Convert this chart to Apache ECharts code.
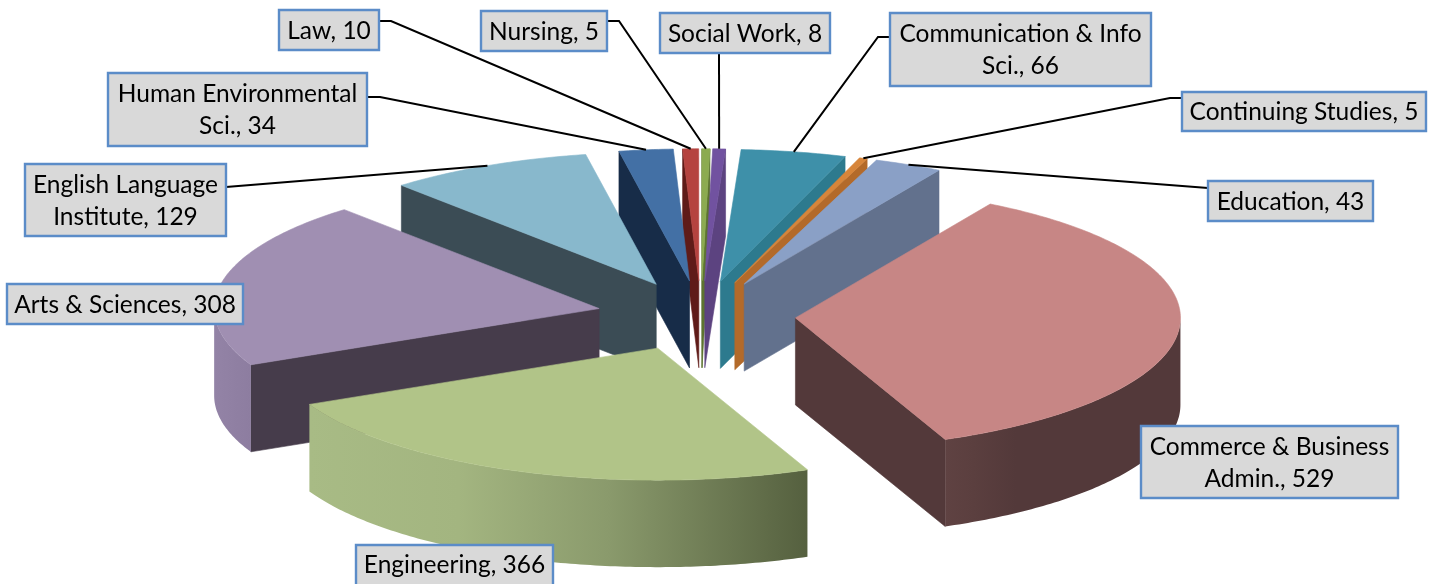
<!DOCTYPE html>
<html>
<head>
<meta charset="utf-8">
<script src="https://cdn.jsdelivr.net/npm/echarts@6/dist/echarts.min.js"></script>
<style>html,body{margin:0;padding:0;background:#fff}#c{width:1438px;height:584px}</style>
</head>
<body>
<div id="c"></div>
<script>
// ---- data ----
const categories = ['Commerce & Business\nAdmin.', 'Engineering', 'Arts & Sciences', 'English Language\nInstitute',
  'Human Environmental\nSci.', 'Law', 'Nursing', 'Social Work', 'Communication & Info\nSci.', 'Continuing Studies', 'Education'];
const values = [529, 366, 308, 129, 34, 10, 5, 8, 66, 5, 43];

// ---- styling ----
const topColors = ['#c78685', '#b1c488', '#a08fb2', '#88b8cc', '#4370a5', '#b5433f', '#8cab50', '#7152a0', '#3e90a9', '#d7853a', '#8aa0c6'];
const wallColors = ['#53393a', '#6b7a4e', '#463c4b', '#3b4c55', '#172c48', '#5f1b18', '#5d7430', '#5c4380', '#2d7a8e', '#b36a2a', '#62718d'];
const rimStops = {
  0: [[0, '#5f4242'], [0.12, '#5b3f3f'], [0.3, '#53393a'], [1, '#53393a']],
  1: [[0, '#a8bb85'], [0.3, '#a3b580'], [0.6, '#8a9a6c'], [1, '#55603f']],
  2: [[0, '#9383a6'], [1, '#8d7da0']]
};

// ---- pie geometry ----
const geo = { cx: 694, cy: 315.6, rx: 385, ry: 132, depth: 87, explode: 0.264, backShift: 7, startAngle: 30.4 };

// ---- label boxes: [left, top, right, bottom], leader elbow ----
const labelLayout = [
  { box: [1141, 426, 1398, 498] },
  { box: [356, 545, 553, 590] },
  { box: [7, 284, 243, 324] },
  { box: [25, 164, 226, 236], from: [226, 187] },
  { box: [108, 73, 367, 146], from: [367, 97], elbow: [380, 97] },
  { box: [279, 10, 379, 50], from: [379, 21], elbow: [391, 21] },
  { box: [481, 11, 607, 51], from: [607, 21], elbow: [619, 21] },
  { box: [660, 13, 830, 53], from: [719, 53] },
  { box: [890, 13, 1151, 86], from: [890, 37], elbow: [878, 37] },
  { box: [1182, 92, 1426, 131], from: [1182, 98], elbow: [1170, 98] },
  { box: [1208, 181, 1373, 221], from: [1208, 188] }
];

const total = values.reduce((a, b) => a + b, 0);
const rad = d => d * Math.PI / 180;
const slices = [];
let acc = geo.startAngle;
values.forEach(v => {
  const a0 = acc, a1 = acc + v / total * 360, mid = (a0 + a1) / 2;
  acc = a1;
  slices.push({
    a0, a1, mid,
    ax: geo.cx + geo.explode * geo.rx * Math.sin(rad(mid)) + geo.backShift * Math.pow(Math.max(0, Math.cos(rad(mid))), 0.25),
    ay: geo.cy - geo.explode * geo.ry * Math.cos(rad(mid))
  });
});
const order = slices.map((s, i) => i).sort((p, q) => slices[p].ay - slices[q].ay);
const rim = (s, a, dy) => [s.ax + geo.rx * Math.sin(rad(a)), s.ay - geo.ry * Math.cos(rad(a)) + (dy || 0)];
const arc = (s, a0, a1, dy) => {
  const pts = [], n = Math.max(2, Math.ceil((a1 - a0) / 0.75));
  for (let k = 0; k <= n; k++) pts.push(rim(s, a0 + (a1 - a0) * k / n, dy));
  return pts;
};
const poly = (pts, fill, z2) => ({
  type: 'polygon', z2, silent: true,
  shape: { points: pts },
  style: { fill, stroke: typeof fill === 'string' ? fill : null, lineWidth: 0.6 }
});

function renderSlice(params, api) {
  const i = params.dataIndex, s = slices[i], z = order.indexOf(i) * 10 + 1, d = geo.depth, kids = [];
  const A = [s.ax, s.ay], B = [s.ax, s.ay + d];
  if (Math.sin(rad(s.a0)) < 0) {
    kids.push(poly([A, rim(s, s.a0), rim(s, s.a0, d), B], wallColors[i], z));
  }
  if (Math.sin(rad(s.a1)) > 0) {
    kids.push(poly([A, rim(s, s.a1), rim(s, s.a1, d), B], wallColors[i], z));
  }
  const w0 = Math.max(s.a0, 90), w1 = Math.min(s.a1, 270);
  if (w1 > w0) {
    const top = arc(s, w0, w1), bottom = arc(s, w0, w1, d).reverse();
    // Engineering and Arts run left to right across the screen from their far end
    const fill = new echarts.graphic.LinearGradient(0, 0, 1, 0,
      rimStops[i].map(st => ({ offset: st[0], color: st[1] })));
    kids.push(poly(top.concat(bottom), fill, z + 1));
  }
  kids.push(poly([A].concat(arc(s, s.a0, s.a1)), topColors[i], z + 2));
  return { type: 'group', children: kids };
}

function renderLabel(params, api) {
  const i = params.dataIndex, L = labelLayout[i], s = slices[i], b = L.box, kids = [];
  if (L.from) {
    const pts = [L.from];
    if (L.elbow) pts.push(L.elbow);
    pts.push(rim(s, s.mid));
    kids.push({ type: 'polyline', z2: 500, silent: true, shape: { points: pts },
      style: { fill: null, stroke: '#000', lineWidth: 2 } });
  }
  kids.push({ type: 'rect', z2: 510, silent: true,
    shape: { x: b[0], y: b[1], width: b[2] - b[0], height: b[3] - b[1] },
    style: { fill: '#d9d9d9', stroke: '#5b8cc8', lineWidth: 2.4 } });
  kids.push({ type: 'text', z2: 520, silent: true,
    x: (b[0] + b[2]) / 2, y: (b[1] + Math.min(b[3], 584)) / 2 + 1,
    style: { text: categories[i] + ', ' + api.value(0), fill: '#000', font: '400 24.5px Lato',
      align: 'center', verticalAlign: 'middle', lineHeight: 32 } });
  return { type: 'group', children: kids };
}

const chart = echarts.init(document.getElementById('c'), null, { renderer: 'canvas' });
chart.setOption({
  animation: false,
  backgroundColor: '#fff',
  series: [
    { type: 'custom', coordinateSystem: 'none', renderItem: renderSlice, data: values.map(v => [v]), z: 2, silent: true },
    { type: 'custom', coordinateSystem: 'none', renderItem: renderLabel, data: values.map(v => [v]), z: 3, silent: true }
  ]
});
</script>
</body>
</html>
